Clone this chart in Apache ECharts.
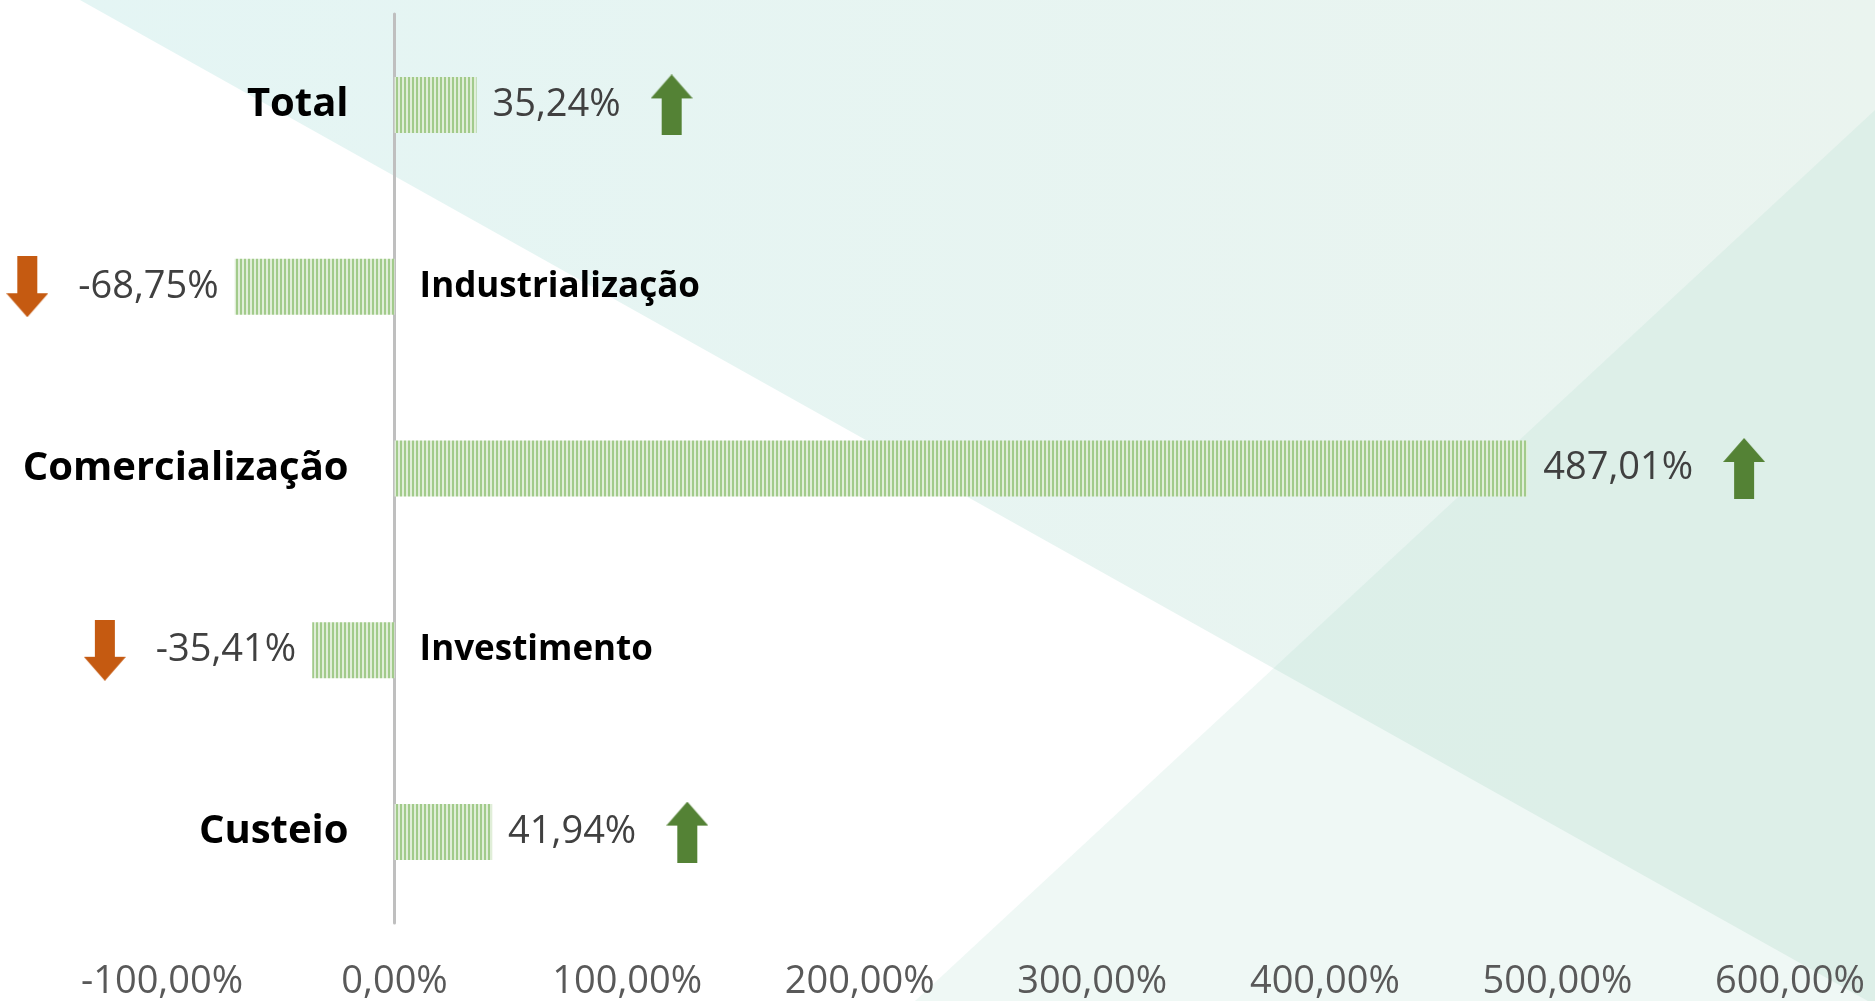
<!DOCTYPE html>
<html>
<head>
<meta charset="utf-8">
<script src="https://cdn.jsdelivr.net/npm/echarts@6/dist/echarts.min.js"></script>
<style>
html,body{margin:0;padding:0;background:#fff;}
#c{width:1875px;height:1001px;}
</style>
</head>
<body>
<div id="c"></div>
<script>
// ---- data ----
var categories = ['Total', 'Industrialização', 'Comercialização', 'Investimento', 'Custeio'];
var values = [35.24, -68.75, 487.01, -35.41, 41.94];
var xTicks = [-100, 0, 100, 200, 300, 400, 500, 600];

function fmt(v) {
  return v.toFixed(2).replace('.', ',') + '%';
}

// arrow images
function arrow(up, color) {
  var c = document.createElement('canvas');
  c.width = 42; c.height = 61;
  var g = c.getContext('2d');
  g.fillStyle = color;
  g.beginPath();
  if (up) {
    g.moveTo(21, 0); g.lineTo(42, 24); g.lineTo(31, 24); g.lineTo(31, 61);
    g.lineTo(11, 61); g.lineTo(11, 24); g.lineTo(0, 24);
  } else {
    g.moveTo(21, 61); g.lineTo(42, 37); g.lineTo(31, 37); g.lineTo(31, 0);
    g.lineTo(11, 0); g.lineTo(11, 37); g.lineTo(0, 37);
  }
  g.closePath(); g.fill();
  return c;
}
var upImg = arrow(true, '#548235');
var dnImg = arrow(false, '#C55A11');

// stripe pattern
var pat = document.createElement('canvas');
pat.width = 4; pat.height = 4;
var pg = pat.getContext('2d');
pg.fillStyle = '#E0EED8'; pg.fillRect(0, 0, 4, 4);
pg.fillStyle = '#A2CB8B'; pg.fillRect(0, 0, 2, 4);

var W = 1875, GL = 162, GR = 85;
var xMin = xTicks[0], xMax = xTicks[xTicks.length - 1];
// place the category axis at value 0 (axis + labels)
var zeroOffset = -(0 - xMin) / (xMax - xMin) * (W - GL - GR);

var chart = echarts.init(document.getElementById('c'));
var FONT = '"Open Sans", "Noto Sans", sans-serif';

chart.setOption({
  backgroundColor: '#ffffff',
  animation: false,
  graphic: [
    {
      type: 'polygon', z: -10, silent: true,
      shape: { points: [[80, 0], [1875, 0], [1875, 1005]] },
      style: {
        fill: new echarts.graphic.LinearGradient(0, 0, 1, 0, [
          { offset: 0, color: '#E4F5F4' },
          { offset: 1, color: '#EAF4EF' }
        ])
      }
    },
    {
      type: 'polygon', z: -9, silent: true,
      shape: { points: [[915, 1001], [1875, 110], [1875, 1001]] },
      style: { fill: 'rgba(166,216,199,0.18)' }
    }
  ],
  grid: { left: GL, right: GR, top: 14, bottom: 78, containLabel: false, outerBoundsMode: 'none' },
  xAxis: {
    type: 'value',
    min: xMin,
    max: xMax,
    interval: 100,
    axisLine: { show: false },
    axisTick: { show: false },
    splitLine: { show: false },
    axisLabel: {
      margin: 40,
      color: '#595959',
      fontFamily: FONT,
      fontSize: 38,
      formatter: function (v) { return fmt(v); }
    }
  },
  yAxis: [
    {
      type: 'category',
      inverse: true,
      position: 'left',
      offset: zeroOffset,
      data: categories,
      axisLine: { show: true, onZero: false, lineStyle: { color: '#BFBFBF', width: 3 } },
      axisTick: { show: false },
      axisLabel: {
        margin: 46,
        color: '#000000',
        fontFamily: FONT,
        fontWeight: 'bold',
        fontSize: 40,
        formatter: function (name, i) { return values[i] >= 0 ? name : ''; }
      }
    },
    {
      type: 'category',
      inverse: true,
      position: 'left',
      offset: zeroOffset,
      data: categories,
      axisLine: { show: false, onZero: false },
      axisTick: { show: false },
      axisLabel: {
        margin: -25,
        align: 'left',
        color: '#000000',
        fontFamily: FONT,
        fontWeight: 'bold',
        fontSize: 35,
        formatter: function (name, i) { return values[i] < 0 ? name : ''; }
      }
    }
  ],
  series: [
    {
      type: 'bar',
      yAxisIndex: 0,
      barWidth: 56,
      data: values.map(function (v) {
        return {
          value: v,
          label: { position: v >= 0 ? 'right' : 'left' }
        };
      }),
      itemStyle: { color: { image: pat, repeat: 'repeat' } },
      label: {
        show: true,
        distance: 16,
        formatter: function (p) {
          return p.value >= 0
            ? '{v|' + fmt(p.value) + '}{g|}{up|}'
            : '{dn|}{g|}{v|' + fmt(p.value) + '}';
        },
        rich: {
          v: { fontFamily: FONT, fontSize: 38, color: '#404040' },
          g: { width: 30 },
          up: { width: 42, height: 61, backgroundColor: { image: upImg } },
          dn: { width: 42, height: 61, backgroundColor: { image: dnImg } }
        }
      }
    }
  ]
});
</script>
</body>
</html>
